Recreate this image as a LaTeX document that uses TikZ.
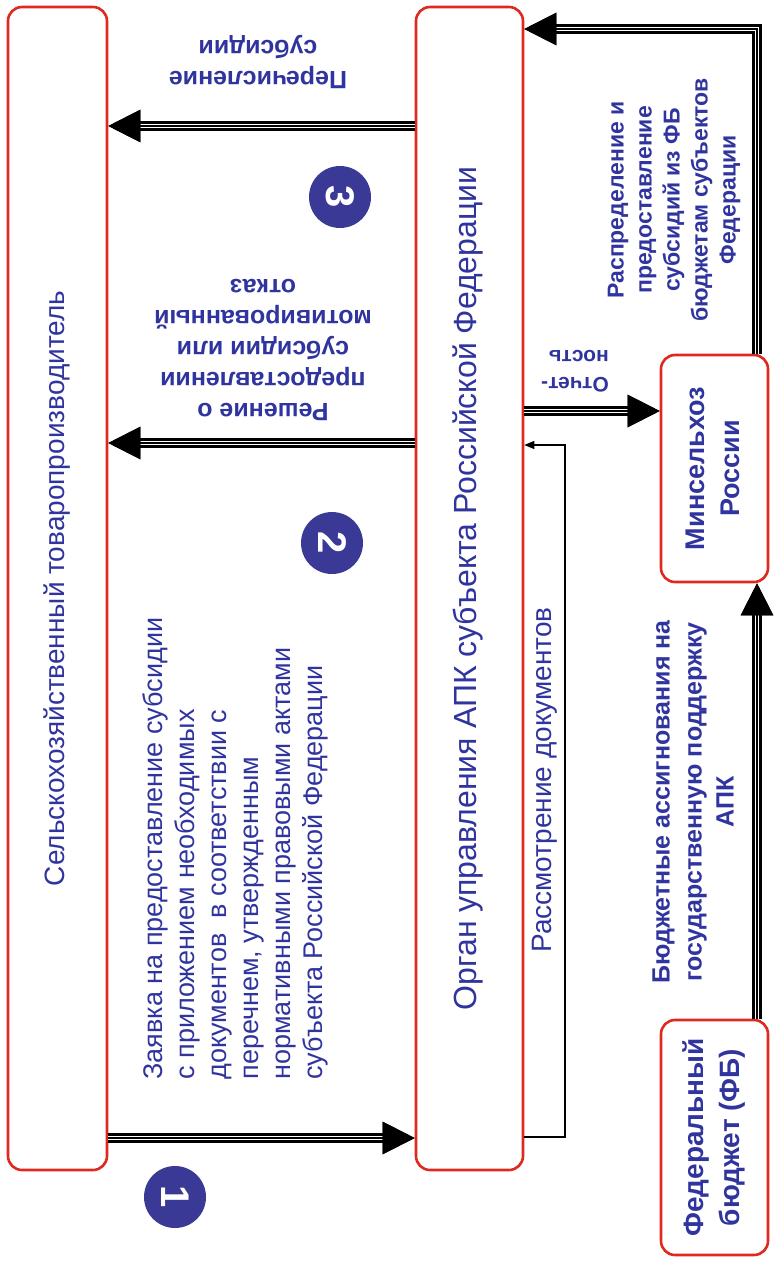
\documentclass[tikz,border=0pt]{standalone}
\usepackage{fontspec}
\setmainfont{Liberation Sans}
\usetikzlibrary{arrows.meta, positioning}

\definecolor{txtblue}{RGB}{48,52,158}
\definecolor{boxred}{RGB}{222,42,30}
\definecolor{numblue}{RGB}{58,58,150}

% upright text turned to read bottom-up
\newcommand{\vtext}[1]{\rotatebox{90}{\begin{tabular}{@{}c@{}}#1\end{tabular}}}

\begin{document}
\begin{tikzpicture}[
    x=0.5pt, y=-0.5pt,
    box/.style={draw=boxred, line width=1.3pt, rounded corners=7pt, fill=white, inner sep=0pt, text=txtblue, align=center},
    lbl/.style={text=txtblue, align=center, inner sep=0pt, font=\fontsize{12.5}{15.5}\selectfont\bfseries},
    num/.style={circle, fill=numblue, text=white, minimum size=31pt, inner sep=0pt, font=\fontsize{20}{20}\selectfont\bfseries, rotate=-90},
    flow/.style={draw, line width=1.1pt, double=white, double distance=2.4pt, -{Triangle[length=16pt, width=16pt]}, postaction={draw, line width=1.2pt}},
    check/.style={draw, line width=0.6pt, -{Triangle[length=5pt, width=4pt]}},
]
\useasboundingbox (0,0) rectangle (774,1263);

% Boxes
\node[box, minimum width=49.5pt, minimum height=581.5pt, font=\fontsize{14}{17}\selectfont] (farmer) at (57.5,588.5) {\vtext{Сельскохозяйственный товаропроизводитель}};
\node[box, minimum width=53.5pt, minimum height=581.5pt, font=\fontsize{16}{18}\selectfont] (organ) at (469.5,588.5) {\vtext{Орган управления АПК субъекта Российской Федерации}};
\node[box, minimum width=53.5pt, minimum height=113.5pt, font=\fontsize{13.5}{17.5}\selectfont\bfseries] (minsel) at (714.5,468.5) {\vtext{Минсельхоз\\России}};
\node[box, minimum width=53.5pt, minimum height=117.5pt, font=\fontsize{14}{18}\selectfont\bfseries] (fb) at (714.5,1137.5) {\vtext{Федеральный\\бюджет (ФБ)}};

% Levels of the connectors
\coordinate (yperech) at (0,126);
\coordinate (yresh) at (0,443);
\coordinate (yzay) at (0,1138);
\coordinate (yotch) at (0,411);
\coordinate (ytop) at (0,29);
\coordinate (xright) at (757,0);
\coordinate (rsA) at (0,1137);
\coordinate (rsB) at (565,445);

% Arrows
\draw[flow] (organ.west |- yperech) -- (farmer.east |- yperech);
\draw[flow] (organ.west |- yresh) -- (farmer.east |- yresh);
\draw[flow] (farmer.east |- yzay) -- (organ.west |- yzay);
\draw[flow] (organ.east |- yotch) -- (minsel.west |- yotch);
\draw[flow] (minsel.north -| xright) |- (organ.east |- ytop);
\draw[flow] (fb.north -| xright) -- (minsel.south -| xright);
\draw[check] (organ.east |- rsA) -| (rsB) -- (organ.east |- rsB);

% Labels and steps
\node[lbl, rotate=180] (perechlbl) at (258,62) {Перечисление\\субсидии};
\node[num] (n3) at (340,197) {3};
\node[lbl, rotate=180] (reshlbl) at (263,350) {Решение о\\предоставлении\\субсидии или\\мотивированный\\отказ};
\node[num] (n2) at (332,543) {2};
\node[lbl, rotate=90, align=left, anchor=north west, font=\fontsize{13.5}{16}\selectfont] (zaylbl) at (142,1080) {Заявка на предоставление субсидии\\с приложением необходимых\\документов~ в соответствии с\\перечнем, утвержденным\\нормативными правовыми актами\\субъекта Российской Федерации};
\node[num] (n1) at (175,1197) {1};
\node[lbl, rotate=90, font=\fontsize{14}{17}\selectfont] (rsmlbl) at (545,780) {Рассмотрение документов};
\node[lbl, rotate=180, align=left, font=\fontsize{10.5}{13.5}\selectfont\bfseries] (otchlbl) at (575,371) {Отчет-\\ность};
\node[lbl, rotate=90, font=\fontsize{11.5}{14}\selectfont\bfseries] (rasplbl) at (674,200) {Распределение и\\предоставление\\субсидий из ФБ\\бюджетам субъектов\\Федерации};
\node[lbl, rotate=90, font=\fontsize{12.5}{16}\selectfont\bfseries] (budlbl) at (693,802) {Бюджетные ассигнования на\\государственную поддержку\\АПК};

\end{tikzpicture}
\end{document}
